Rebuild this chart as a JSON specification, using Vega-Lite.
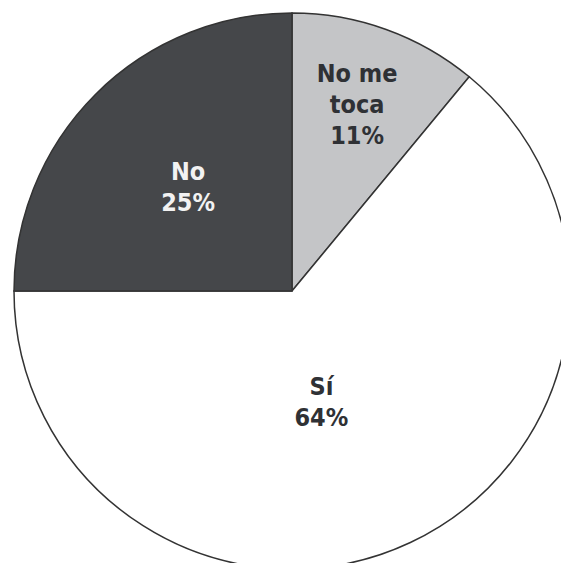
{
  "$schema": "https://vega.github.io/schema/vega-lite/v6.json",
  "width": 538,
  "height": 544,
  "autosize": {"type": "none"},
  "padding": {"left": 23, "top": 19, "right": 0, "bottom": 0},
  "background": "white",
  "view": {"stroke": null},
  "data": {
    "values": [
      {"respuesta": "No me toca", "porcentaje": 11, "orden": 1},
      {"respuesta": "Sí", "porcentaje": 64, "orden": 2},
      {"respuesta": "No", "porcentaje": 25, "orden": 3}
    ]
  },
  "transform": [
    {"calculate": "replace(datum.respuesta, ' toca', '\\ntoca') + '\\n' + datum.porcentaje + '%'", "as": "etiqueta"}
  ],
  "encoding": {
    "theta": {"field": "porcentaje", "type": "quantitative", "stack": true},
    "order": {"field": "orden", "type": "quantitative"}
  },
  "layer": [
    {
      "mark": {"type": "arc", "outerRadius": 278, "stroke": "#333333", "strokeWidth": 1.5},
      "encoding": {
        "color": {
          "field": "respuesta",
          "type": "nominal",
          "scale": {"domain": ["No me toca", "Sí", "No"], "range": ["#c4c5c7", "#ffffff", "#45474a"]},
          "legend": null
        }
      }
    },
    {
      "mark": {"type": "text", "radius": 198, "font": "DejaVu Sans Condensed, Roboto, sans-serif", "fontWeight": "bold", "fontSize": 25, "lineHeight": 31, "lineBreak": "\n", "baseline": "middle", "align": "center", "dx": -2, "dy": -31, "fill": "#2f3135"},
      "encoding": {
        "text": {"condition": {"test": "datum.respuesta == 'No me toca'", "field": "etiqueta"}, "value": ""}
      }
    },
    {
      "mark": {"type": "text", "radius": 116, "font": "DejaVu Sans Condensed, Roboto, sans-serif", "fontWeight": "bold", "fontSize": 25, "lineHeight": 31, "lineBreak": "\n", "baseline": "middle", "align": "center", "dx": -20, "dy": -9, "fill": "#2f3135"},
      "encoding": {
        "text": {"condition": {"test": "datum.respuesta == 'Sí'", "field": "etiqueta"}, "value": ""}
      }
    },
    {
      "mark": {"type": "text", "radius": 147, "font": "DejaVu Sans Condensed, Roboto, sans-serif", "fontWeight": "bold", "fontSize": 25, "lineHeight": 31, "lineBreak": "\n", "baseline": "middle", "align": "center", "dy": -15, "fill": "#f2f2f2"},
      "encoding": {
        "text": {"condition": {"test": "datum.respuesta == 'No'", "field": "etiqueta"}, "value": ""}
      }
    }
  ]
}
